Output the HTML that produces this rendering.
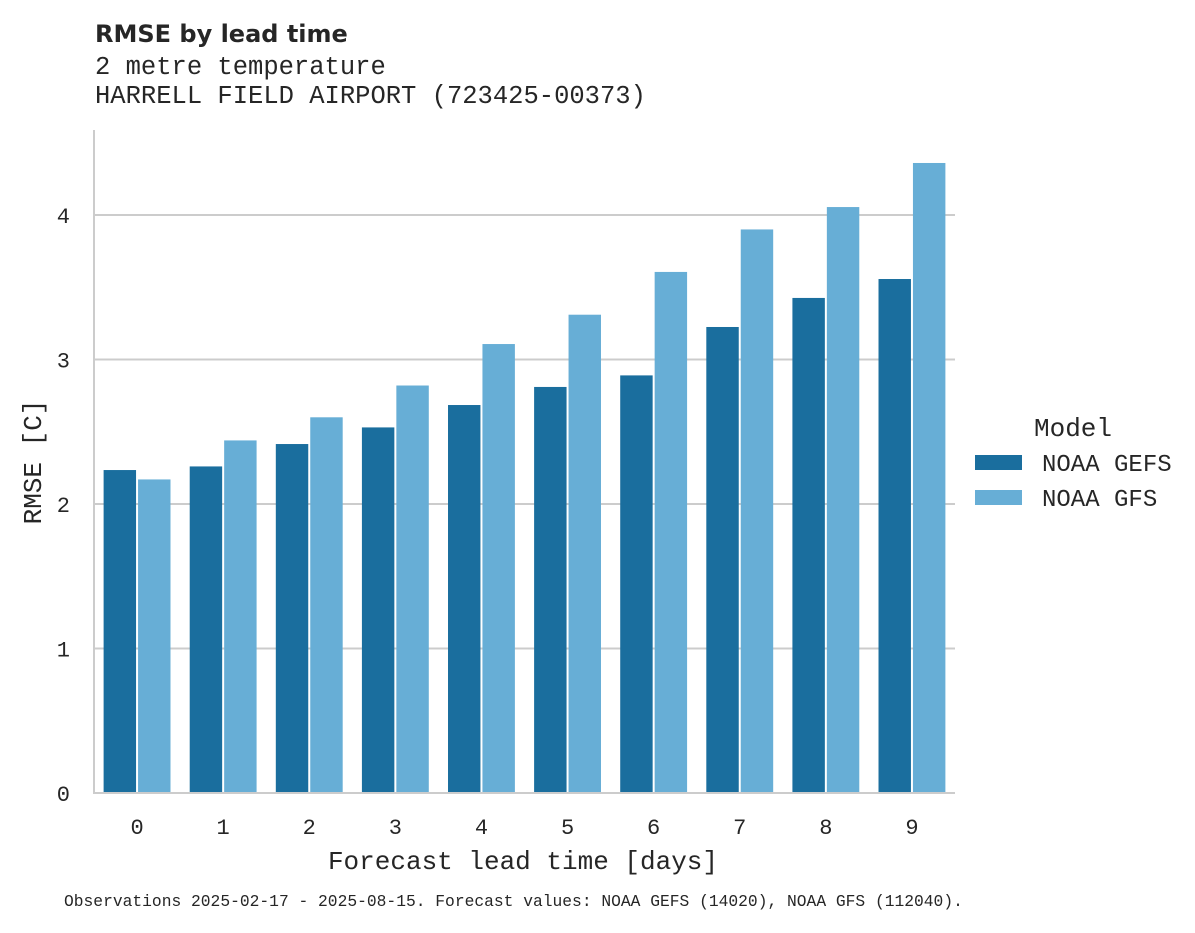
<!DOCTYPE html>
<html><head><meta charset="utf-8"><style>
body{margin:0;background:#fff;}
svg text{font-family:"Liberation Mono","DejaVu Sans Mono",monospace;fill:#262626;}
</style></head><body>
<svg id="chart" width="1195" height="928" xmlns="http://www.w3.org/2000/svg">
<text x="95" y="42" style="font-family:'DejaVu Sans','Liberation Sans',sans-serif;font-weight:bold;font-size:24px">RMSE by lead time</text>
<text x="95" y="74" font-size="25.5">2 metre temperature</text>
<text x="95" y="103" font-size="25.5">HARRELL FIELD AIRPORT (723425-00373)</text>
<g id="grid"></g>
<g id="bars"></g>
<g id="axes"></g>
<text x="523" y="869" font-size="26" text-anchor="middle">Forecast lead time [days]</text>
<text transform="translate(41,462) rotate(-90)" font-size="26" text-anchor="middle">RMSE [C]</text>
<text x="1034" y="436" font-size="26">Model</text>
<g><rect x="975" y="455" width="47" height="15" fill="#1a6e9e"/><text x="1042" y="471" font-size="24">NOAA GEFS</text></g>
<g><rect x="975" y="490" width="47" height="15" fill="#67aed6"/><text x="1042" y="506" font-size="24">NOAA GFS</text></g>
<text x="64" y="906" font-size="16.3">Observations 2025-02-17 - 2025-08-15. Forecast values: NOAA GEFS (14020), NOAA GFS (112040).</text>
</svg>
<script>
const categories=["0","1","2","3","4","5","6","7","8","9"];
const gefsValues=[2.235,2.26,2.415,2.53,2.685,2.81,2.89,3.225,3.426,3.557];
const gfsValues=[2.17,2.44,2.60,2.82,3.107,3.31,3.606,3.90,4.055,4.36];
const yTicks=[0,1,2,3,4];
const NS="http://www.w3.org/2000/svg";
const X0=94,X1=955,Y0=793,PX=144.5;
const step=(X1-X0)/categories.length;
function y(v){return Y0-v*PX;}
function xc(i){return X0+step*(i+0.5);}
function mk(tag,attrs,parent){const e=document.createElementNS(NS,tag);for(const k in attrs)e.setAttribute(k,attrs[k]);parent.appendChild(e);return e;}
const grid=document.getElementById('grid'),bars=document.getElementById('bars'),axes=document.getElementById('axes');
yTicks.forEach(t=>{
 if(t>0){const l=mk('line',{x1:X0,x2:X1,y1:y(t),y2:y(t),stroke:'#cccccc','stroke-width':2},grid);
 
 }
 const tx=mk('text',{x:70,y:y(t)+8,'font-size':22,'text-anchor':'end'},axes);tx.textContent=t;
 
 
});
const bw=step*0.8/2;
categories.forEach((c,i)=>{
 const a=mk('rect',{x:xc(i)-bw+1,y:y(gefsValues[i]),width:bw-2,height:Y0-y(gefsValues[i]),fill:'#1a6e9e'},bars);
 
 
 const b=mk('rect',{x:xc(i)+1,y:y(gfsValues[i]),width:bw-2,height:Y0-y(gfsValues[i]),fill:'#67aed6'},bars);
 
 
 const tx=mk('text',{x:xc(i),y:834,'font-size':22,'text-anchor':'middle'},axes);tx.textContent=c;
 
 
});
const ya=mk('line',{x1:X0,x2:X0,y1:130,y2:Y0+1,stroke:'#cccccc','stroke-width':2},axes);


const xa=mk('line',{x1:X0,x2:X1,y1:Y0,y2:Y0,stroke:'#cccccc','stroke-width':2},axes);


</script>
</body></html>
